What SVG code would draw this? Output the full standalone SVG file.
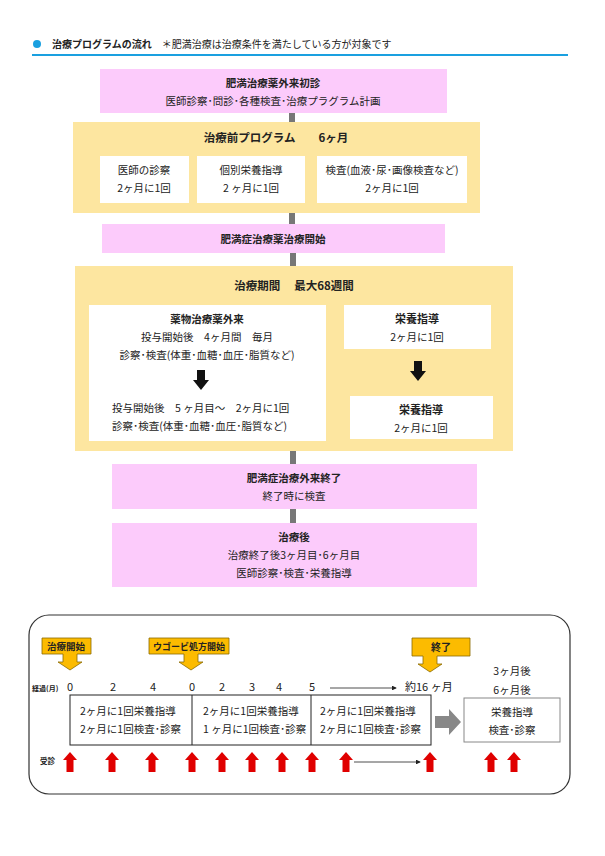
<svg xmlns="http://www.w3.org/2000/svg" width="605" height="856" viewBox="0 0 605 856">
<defs>
<style>
text{font-family:"Noto Sans CJK JP","Noto Sans",sans-serif;fill:#222;font-size:10.5px}
.c{text-anchor:middle}
.b{font-weight:bold}
.pink{fill:#fccbfb}
.yel{fill:#fde6a0}
.wh{fill:#fff}
.conn{fill:#777}
.lab{fill:#fcbb00;stroke:#8a6a00;stroke-width:0.8}
.red{fill:#e00000}
</style>
<marker id="ah" markerWidth="6" markerHeight="6" refX="5" refY="3" orient="auto"><path d="M0,0L6,3L0,6Z" fill="#222"/></marker>
<g id="redup"><path d="M0,0L-7,8H-3.5V20H3.5V8H7Z" class="red"/></g>
<g id="blk"><path d="M-4,0H4V10H8L0,20L-8,10H-4Z" fill="#111"/></g>
</defs>
<rect width="605" height="856" fill="#fff"/>
<circle cx="37" cy="44" r="4" fill="#1aa0e0"/>
<text x="52" y="48" style="font-size:10px"><tspan class="b">治療プログラムの流れ</tspan>　＊肥満治療は治療条件を満たしている方が対象です</text>
<rect x="32" y="54" width="536" height="2" fill="#1aa0e0"/>
<g id="connectors">
<rect class="conn" x="289" y="113" width="6" height="10"/>
<rect class="conn" x="289" y="213" width="6" height="11"/>
<rect class="conn" x="290" y="253" width="6" height="13"/>
<rect class="conn" x="290" y="451" width="6" height="13"/>
<rect class="conn" x="290" y="509" width="6" height="14"/>
</g>
<g id="n1"><rect class="pink" x="100" y="69" width="347" height="44"/>
<text class="c b" x="273" y="87">肥満治療薬外来初診</text>
<text class="c" x="273" y="105">医師診察･問診･各種検査･治療プラグラム計画</text></g>
<g id="n2"><rect class="yel" x="73" y="122" width="407" height="91"/>
<text class="c b" x="276" y="142" style="font-size:11.5px">治療前プログラム　　6ヶ月</text>
<rect class="wh" x="100" y="156" width="89" height="47"/>
<text class="c" x="144" y="174">医師の診察</text><text class="c" x="144" y="192">2ヶ月に1回</text>
<rect class="wh" x="197" y="156" width="108" height="47"/>
<text class="c" x="251" y="174">個別栄養指導</text><text class="c" x="251" y="192">2 ヶ月に1回</text>
<rect class="wh" x="317" y="156" width="150" height="47"/>
<text class="c" x="392" y="174">検査(血液･尿･画像検査など)</text><text class="c" x="392" y="192">2ヶ月に1回</text></g>
<g id="n3"><rect class="pink" x="102" y="224" width="343" height="29"/>
<text class="c b" x="273" y="243">肥満症治療薬治療開始</text></g>
<g id="n4"><rect class="yel" x="75" y="266" width="438" height="185"/>
<text class="c b" x="294" y="290" style="font-size:11.5px">治療期間　 最大68週間</text>
<rect class="wh" x="89" y="305" width="237" height="136"/>
<text class="c b" x="207" y="323">薬物治療薬外来</text>
<text class="c" x="207" y="341">投与開始後　4ヶ月間　毎月</text>
<text class="c" x="207" y="359">診察･検査(体重･血糖･血圧･脂質など)</text>
<use href="#blk" x="201" y="370"/>
<text x="112" y="412">投与開始後　5 ヶ月目～　2ヶ月に1回</text>
<text x="112" y="430">診察･検査(体重･血糖･血圧･脂質など)</text>
<rect class="wh" x="344" y="305" width="147" height="44"/>
<text class="c b" x="417" y="323" style="font-size:11px">栄養指導</text>
<text class="c" x="417" y="341">2ヶ月に1回</text>
<use href="#blk" x="418" y="361"/>
<rect class="wh" x="350" y="396" width="143" height="43"/>
<text class="c b" x="421" y="414" style="font-size:11px">栄養指導</text>
<text class="c" x="421" y="432">2ヶ月に1回</text></g>
<g id="n5"><rect class="pink" x="112" y="464" width="365" height="45"/>
<text class="c b" x="294" y="482">肥満症治療外来終了</text>
<text class="c" x="294" y="500">終了時に検査</text></g>
<g id="n6"><rect class="pink" x="112" y="523" width="365" height="64"/>
<text class="c b" x="294" y="541">治療後</text>
<text class="c" x="294" y="559">治療終了後3ヶ月目･6ヶ月目</text>
<text class="c" x="294" y="577">医師診察･検査･栄養指導</text></g>

<g id="timeline">
<rect x="29" y="615" width="541" height="179" rx="20" fill="#fff" stroke="#333" stroke-width="1.2"/>
<path class="lab" d="M42,638H91V654H77V662H82L70,670L58,662H63V654H42Z"/>
<text class="b" x="66" y="650" text-anchor="middle" style="font-size:9.5px">治療開始</text>
<path class="lab" d="M149,638H229V654H198V662H203L191,670L179,662H184V654H149Z"/>
<text class="b" x="189" y="650" text-anchor="middle" style="font-size:9px">ウゴービ処方開始</text>
<path class="lab" d="M412,638H470V656H437V664H442L430,672L418,664H423V656H412Z"/>
<text class="b" x="441" y="651" text-anchor="middle" style="font-size:10px">終了</text>
<text x="32" y="691" style="font-size:7px" class="b">経過(月)</text>
<text class="c" x="70" y="691" style="font-size:11px">0</text>
<text class="c" x="113" y="691" style="font-size:11px">2</text>
<text class="c" x="153" y="691" style="font-size:11px">4</text>
<text class="c" x="192" y="691" style="font-size:11px">0</text>
<text class="c" x="222" y="691" style="font-size:11px">2</text>
<text class="c" x="252" y="691" style="font-size:11px">3</text>
<text class="c" x="279" y="691" style="font-size:11px">4</text>
<text class="c" x="312" y="691" style="font-size:11px">5</text>
<text x="405" y="691" style="font-size:11px">約16 ヶ月</text>
<line x1="330" y1="688" x2="396" y2="688" stroke="#222" stroke-width="0.8" marker-end="url(#ah)"/>
<text class="c" x="512" y="675">3ヶ月後</text>
<text class="c" x="512" y="694">6ヶ月後</text>
<rect x="70" y="695" width="361" height="50" fill="none" stroke="#222" stroke-width="1"/>
<line x1="192" y1="695" x2="192" y2="745" stroke="#222"/>
<line x1="311" y1="695" x2="311" y2="745" stroke="#222"/>
<text x="80" y="715">2ヶ月に1回栄養指導</text><text x="80" y="733">2ヶ月に1回検査･診察</text>
<text x="203" y="715">2ヶ月に1回栄養指導</text><text x="203" y="733">1 ヶ月に1回検査･診察</text>
<text x="320" y="715">2ヶ月に1回栄養指導</text><text x="320" y="733">2ヶ月に1回検査･診察</text>
<path d="M435,716H449V709L461,722L449,735V728H435Z" fill="#888"/>
<rect x="464" y="698" width="96" height="44" fill="#fff" stroke="#888"/>
<text class="c" x="512" y="716">栄養指導</text><text class="c" x="512" y="734">検査･診察</text>
<text x="40" y="764" style="font-size:7.5px" class="b">受診</text>
<use href="#redup" x="70" y="752"/><use href="#redup" x="112" y="752"/><use href="#redup" x="152" y="752"/>
<use href="#redup" x="192" y="752"/><use href="#redup" x="222" y="752"/><use href="#redup" x="252" y="752"/>
<use href="#redup" x="282" y="752"/><use href="#redup" x="312" y="752"/><use href="#redup" x="346" y="752"/>
<use href="#redup" x="430" y="752"/><use href="#redup" x="491" y="752"/><use href="#redup" x="514" y="752"/>
<line x1="354" y1="762" x2="420" y2="762" stroke="#222" stroke-width="0.8" marker-end="url(#ah)"/>
</g>
</svg>
